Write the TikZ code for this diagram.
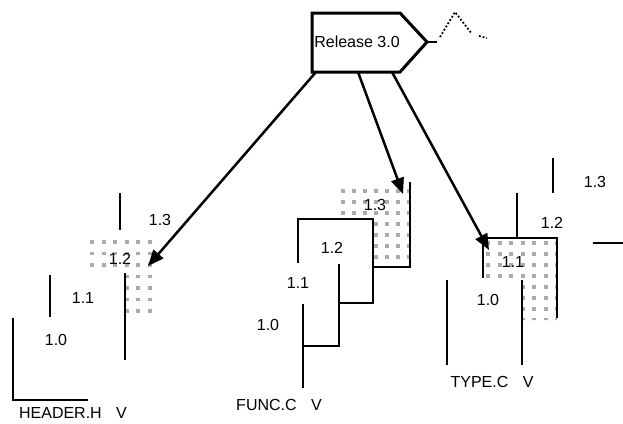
\documentclass[tikz,border=0pt]{standalone}
\usepackage{fontspec}
\setmainfont{Liberation Sans}
\usetikzlibrary{arrows.meta}
\tikzset{
  rel/.style={draw, line width=3pt, line join=miter, fill=white},
  edge/.style={line width=1.3pt},
  lbl/.style={font=\fontsize{16}{18}\selectfont, inner sep=0pt},
  dot/.style={fill=gray!65},
  arr/.style={-{Triangle[length=16pt, width=13pt]}, line width=2.5pt}
}

\begin{document}
\begin{tikzpicture}[x=1pt, y=-1pt]
  \useasboundingbox (0,0) rectangle (623,423);
  % release tag
  \draw[rel] (312,13) -- (400,13) -- (427,42) -- (400,72) -- (312,72) -- cycle;
  \node[lbl] (release) at (357,42) {Release 3.0};
  \coordinate (relL) at (316,72);
  \coordinate (relM) at (358,72);
  \coordinate (relR) at (392,72);
  \draw[line width=1.5pt] (427,42) -- (437,42);
  \draw[dotted, line width=1.8pt] (440,37) -- (455,12) -- (472,34) (479,36) -- (487,38);

  % HEADER.H
  \begin{scope}
    \clip (90,238) -- (158,238) -- (158,315) -- (125,315) -- (125,272) -- (90,272) -- cycle;
    \foreach \x in {90,101.5,...,158}
      \foreach \y in {240,251.5,...,315}
        \fill[dot] (\x,\y) rectangle ++(4,3.5);
  \end{scope}
  \draw[edge] (120,193) -- (120,230);
  \draw[edge] (125,273) -- (125,360);
  \draw[edge] (50,275) -- (50,317);
  \draw[edge] (13,318) |- (88,400);
  \node[lbl] (h13) at (160,220) {1.3};
  \node[lbl] (h12) at (120,259) {1.2};
  \node[lbl] (h11) at (83,298) {1.1};
  \node[lbl] (h10) at (56,340) {1.0};
  \node[lbl] (hdr) at (73,413) {HEADER.H\hspace{0.9em}V};
  \coordinate (hdrtip) at (148,266);

  % FUNC.C
  \begin{scope}
    \clip (340,187) rectangle (410,267);
    \foreach \x in {341,352,...,408}
      \foreach \y in {189,200,...,266}
        \fill[dot] (\x,\y) rectangle ++(4,3.5);
  \end{scope}
  \fill[white] (298,219) rectangle (373,303);
  \draw[edge] (410,182) |- (373,267);
  \draw[edge] (298,263) |- (373,219) -- (373,303) -- (339,303);
  \draw[edge] (339,264) |- (303,346);
  \draw[edge] (303,304) -- (303,388);
  \node[lbl] (f13) at (375,205) {1.3};
  \node[lbl] (f12) at (332,248) {1.2};
  \node[lbl] (f11) at (298,283) {1.1};
  \node[lbl] (f10) at (268,325) {1.0};
  \node[lbl] (func) at (279,405) {FUNC.C\hspace{0.9em}V};
  \coordinate (functip) at (403,194);

  % TYPE.C
  \begin{scope}
    \clip (483,238) -- (557,238) -- (557,320) -- (522,320) -- (522,280) -- (483,280) -- cycle;
    \foreach \x in {486,497.5,...,557}
      \foreach \y in {241,252,...,320}
        \fill[dot] (\x,\y) rectangle ++(4,3.5);
  \end{scope}
  \draw[edge] (553,158) -- (553,193);
  \draw[edge] (517,193) -- (517,238);
  \draw[edge] (593,243) -- (623,243);
  \draw[edge] (483,278) |- (557,238) -- (557,318);
  \draw[edge] (522,280) -- (522,365);
  \draw[edge] (447,280) -- (447,365);
  \node[lbl] (t13) at (595,182) {1.3};
  \node[lbl] (t12) at (552,223) {1.2};
  \node[lbl] (t11) at (513,262) {1.1};
  \node[lbl] (t10) at (488,300) {1.0};
  \node[lbl] (type) at (492,382) {TYPE.C\hspace{0.9em}V};
  \coordinate (typetip) at (489,250);

  \draw[arr] (relL) -- (hdrtip);
  \draw[arr] (relM) -- (functip);
  \draw[arr] (relR) -- (typetip);
\end{tikzpicture}
\end{document}
